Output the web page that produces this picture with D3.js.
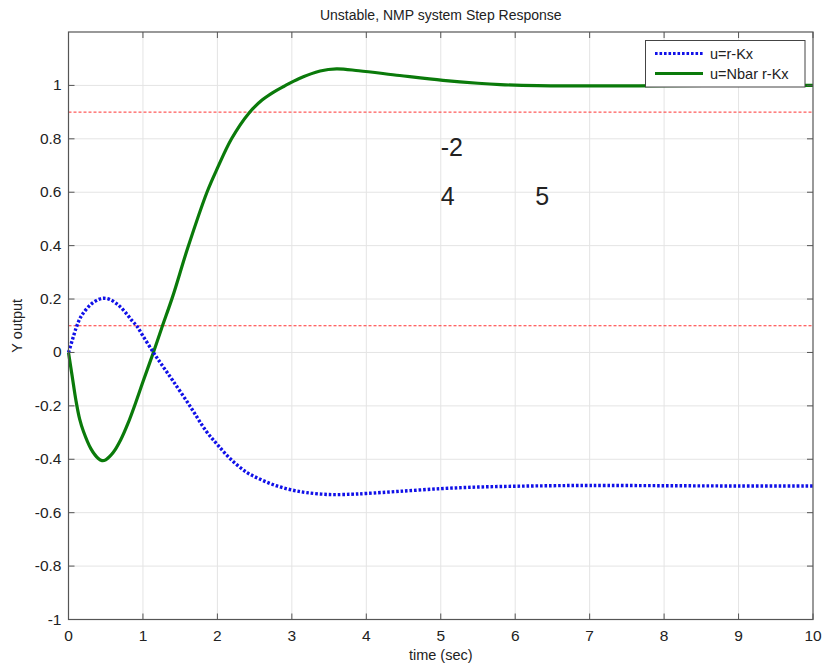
<!DOCTYPE html>
<html>
<head>
<meta charset="utf-8">
<script src="https://cdn.jsdelivr.net/npm/d3@7/dist/d3.min.js"></script>
<style>
  body { margin: 0; background: #fff; }
  text { font-family: "Liberation Sans", Arial, sans-serif; fill: #222; }
</style>
</head>
<body>
<svg id="chart" width="824" height="666"></svg>
<script>
// ---- data ----
const titleText = "Unstable, NMP system Step Response";
const xLabel = "time (sec)";
const yLabel = "Y output";
const xTicks = [0,1,2,3,4,5,6,7,8,9,10];
const yTicks = [-1,-0.8,-0.6,-0.4,-0.2,0,0.2,0.4,0.6,0.8,1];
const refLines = [0.9, 0.1];
const seriesNames = ["u=r-Kx", "u=Nbar r-Kx"];

const tBlue = [0,0.05,0.1,0.15,0.2,0.3,0.4,0.47,0.55,0.65,0.75,0.85,0.92,1.0,1.14,1.25,1.4,1.63,1.85,2.0,2.18,2.4,2.6,2.8,3.0,3.2,3.5,3.8,4.0,4.45,5.0,5.5,6.0,6.5,7.0,8.0,9.0,10.0];
const yBlue = [0,0.045,0.09,0.125,0.148,0.18,0.198,0.203,0.199,0.182,0.155,0.12,0.098,0.062,0,-0.045,-0.105,-0.2,-0.295,-0.345,-0.4,-0.45,-0.478,-0.5,-0.515,-0.525,-0.532,-0.531,-0.528,-0.52,-0.51,-0.504,-0.501,-0.499,-0.498,-0.499,-0.5,-0.5];

const tGreen = [0,0.05,0.1,0.15,0.2,0.3,0.4,0.45,0.5,0.6,0.7,0.8,0.9,1.0,1.14,1.25,1.4,1.6,1.86,2.0,2.19,2.42,2.6,2.75,2.89,3.1,3.38,3.6,3.9,4.45,5.03,5.5,5.8,6.3,7.0,8.0,9.0,10.0];
const yGreen = [0,-0.09,-0.18,-0.25,-0.295,-0.36,-0.397,-0.405,-0.402,-0.375,-0.328,-0.265,-0.19,-0.11,0,0.09,0.21,0.39,0.6,0.69,0.8,0.895,0.945,0.974,0.996,1.026,1.054,1.062,1.055,1.037,1.019,1.008,1.003,0.999,0.998,0.999,1.0,1.0];

const annoText = ["-2", "4", "5"];
const annoX = [5.0, 5.0, 6.27];
const annoY = [0.76, 0.575, 0.575];

// ---- layout ----
const svg = d3.select("#chart");
const L = 68.5, R = 813, T = 32, B = 619.5;
const x = d3.scaleLinear().domain([0,10]).range([L,R]);
const y = d3.scaleLinear().domain([-1,1.2]).range([B,T]);

// gridlines
const g = svg.append("g");
g.selectAll(".vg").data(xTicks.slice(1,-1)).join("line")
  .attr("x1", d=>x(d)).attr("x2", d=>x(d)).attr("y1", T).attr("y2", B)
  .attr("stroke", "#e4e4e4").attr("stroke-width", 1);
g.selectAll(".hg").data(yTicks.slice(1)).join("line")
  .attr("x1", L).attr("x2", R).attr("y1", d=>y(d)).attr("y2", d=>y(d))
  .attr("stroke", "#e4e4e4").attr("stroke-width", 1);

// reference lines
g.selectAll(".ref").data(refLines).join("line")
  .attr("x1", L).attr("x2", R).attr("y1", d=>y(d)).attr("y2", d=>y(d))
  .attr("stroke", "#ff3030").attr("stroke-width", 1).attr("stroke-dasharray", "3,2");

// lines
const line = d3.line().curve(d3.curveCatmullRom.alpha(0.5));
const blueData = tBlue.map((t,i)=>[x(t), y(yBlue[i])]);
const greenData = tGreen.map((t,i)=>[x(t), y(yGreen[i])]);

svg.append("path").attr("d", line(greenData)).attr("fill","none")
  .attr("stroke","#0a7a0a").attr("stroke-width",3.2);
svg.append("path").attr("d", line(blueData)).attr("fill","none")
  .attr("stroke","#1010e8").attr("stroke-width",3.4).attr("stroke-dasharray","2.6,1.9");

// axes box
svg.append("rect").attr("x", L).attr("y", T).attr("width", R-L).attr("height", B-T)
  .attr("fill","none").attr("stroke","#555").attr("stroke-width",1.2);

// ticks (inward, all four sides)
const tk = svg.append("g").attr("stroke","#555").attr("stroke-width",1);
xTicks.forEach(d=>{
  tk.append("line").attr("x1",x(d)).attr("x2",x(d)).attr("y1",B).attr("y2",B-6);
  tk.append("line").attr("x1",x(d)).attr("x2",x(d)).attr("y1",T).attr("y2",T+6);
});
yTicks.forEach(d=>{
  tk.append("line").attr("x1",L).attr("x2",L+6).attr("y1",y(d)).attr("y2",y(d));
  tk.append("line").attr("x1",R).attr("x2",R-6).attr("y1",y(d)).attr("y2",y(d));
});

// tick labels
svg.selectAll(".xl").data(xTicks).join("text")
  .attr("x", d=>x(d)).attr("y", B+21).attr("text-anchor","middle")
  .attr("font-size", 15.5).text(d=>d);
svg.selectAll(".yl").data(yTicks).join("text")
  .attr("x", L-7).attr("y", d=>y(d)+5).attr("text-anchor","end")
  .attr("font-size", 15.5).text(d=>d);

// labels
svg.append("text").attr("x", (L+R)/2).attr("y", 20).attr("text-anchor","middle")
  .attr("font-size", 14).text(titleText);
svg.append("text").attr("x", (L+R)/2).attr("y", 660).attr("text-anchor","middle")
  .attr("font-size", 14.5).text(xLabel);
svg.append("text").attr("transform", `translate(22,${(T+B)/2}) rotate(-90)`)
  .attr("text-anchor","middle").attr("font-size", 14.5).text(yLabel);

// annotations
svg.selectAll(".anno").data(annoText).join("text")
  .attr("x", (d,i)=>x(annoX[i])).attr("y", (d,i)=>y(annoY[i])+6)
  .attr("font-size", 25).text(d=>d);

// legend
const lg = svg.append("g");
lg.append("rect").attr("x", 645.5).attr("y", 40.5).attr("width", 159.5).attr("height", 46.5)
  .attr("fill","#fff").attr("stroke","#444").attr("stroke-width",1);
lg.append("line").attr("x1",655).attr("x2",703).attr("y1",53.5).attr("y2",53.5)
  .attr("stroke","#1010e8").attr("stroke-width",3).attr("stroke-dasharray","2.6,1.9");
lg.append("line").attr("x1",655).attr("x2",703).attr("y1",73.5).attr("y2",73.5)
  .attr("stroke","#0a7a0a").attr("stroke-width",3);
lg.append("text").attr("x",710).attr("y",58.5).attr("font-size",14.5).text(seriesNames[0]);
lg.append("text").attr("x",710).attr("y",78.5).attr("font-size",14.5).text(seriesNames[1]);
</script>
</body>
</html>
